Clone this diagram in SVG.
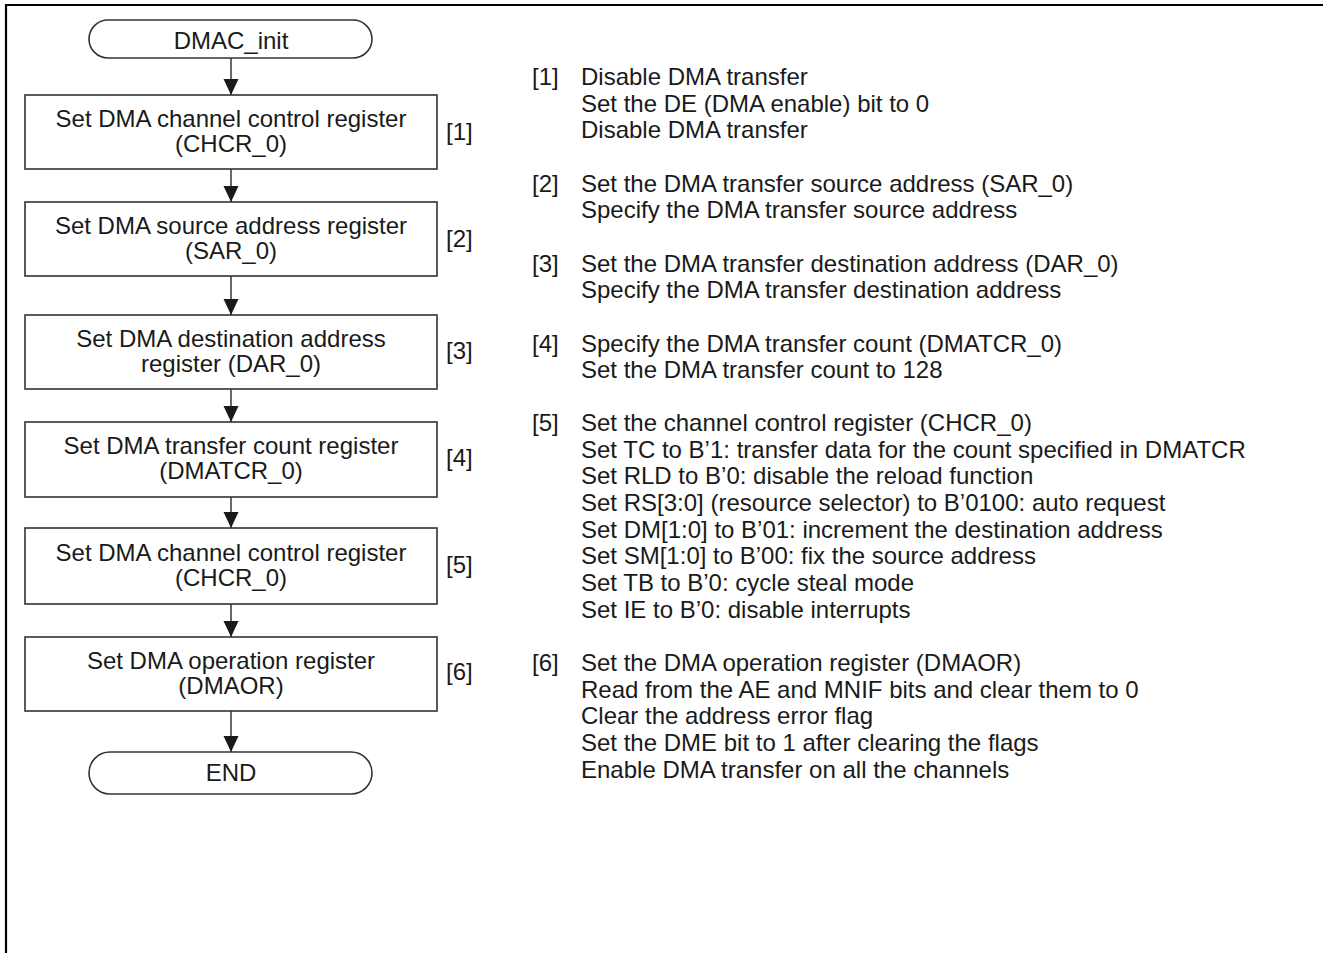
<svg xmlns="http://www.w3.org/2000/svg" width="1323" height="953" viewBox="0 0 1323 953">
<style>
text{font-family:"Liberation Sans",Arial,sans-serif;font-size:24px;fill:#1a1a1a}
.c{text-anchor:middle}
.box{fill:#fff;stroke:#333;stroke-width:1.6}
.conn{stroke:#444;stroke-width:1.6;fill:none}
</style>
<defs>
<marker id="ah" markerUnits="userSpaceOnUse" markerWidth="16" markerHeight="16" viewBox="0 0 16 16" refX="16" refY="8" orient="auto">
<path d="M0,0.5 L16,8 L0,15.5 Z" fill="#1a1a1a"/>
</marker>
</defs>
<rect width="1323" height="953" fill="#fff"/>
<path d="M6,953 V5 H1323" fill="none" stroke="#000" stroke-width="2.2"/>

<g id="connectors">
<line class="conn" x1="231" y1="58" x2="231" y2="95" marker-end="url(#ah)"/>
<line class="conn" x1="231" y1="169" x2="231" y2="202" marker-end="url(#ah)"/>
<line class="conn" x1="231" y1="276" x2="231" y2="315" marker-end="url(#ah)"/>
<line class="conn" x1="231" y1="389" x2="231" y2="422" marker-end="url(#ah)"/>
<line class="conn" x1="231" y1="497" x2="231" y2="528" marker-end="url(#ah)"/>
<line class="conn" x1="231" y1="604" x2="231" y2="637" marker-end="url(#ah)"/>
<line class="conn" x1="231" y1="711" x2="231" y2="752" marker-end="url(#ah)"/>
</g>

<g id="start">
<rect class="box" x="89" y="20" width="283" height="38" rx="19" ry="19"/>
<text class="c" x="231" y="49">DMAC_init</text>
</g>
<g id="step1">
<rect class="box" x="25" y="95" width="412" height="74"/>
<text class="c" x="231" y="127">Set DMA channel control register</text>
<text class="c" x="231" y="152">(CHCR_0)</text>
<text x="446" y="140">[1]</text>
</g>
<g id="step2">
<rect class="box" x="25" y="202" width="412" height="74"/>
<text class="c" x="231" y="234">Set DMA source address register</text>
<text class="c" x="231" y="259">(SAR_0)</text>
<text x="446" y="247">[2]</text>
</g>
<g id="step3">
<rect class="box" x="25" y="315" width="412" height="74"/>
<text class="c" x="231" y="347">Set DMA destination address</text>
<text class="c" x="231" y="372">register (DAR_0)</text>
<text x="446" y="359">[3]</text>
</g>
<g id="step4">
<rect class="box" x="25" y="422" width="412" height="75"/>
<text class="c" x="231" y="454">Set DMA transfer count register</text>
<text class="c" x="231" y="479">(DMATCR_0)</text>
<text x="446" y="466">[4]</text>
</g>
<g id="step5">
<rect class="box" x="25" y="528" width="412" height="76"/>
<text class="c" x="231" y="561">Set DMA channel control register</text>
<text class="c" x="231" y="586">(CHCR_0)</text>
<text x="446" y="573">[5]</text>
</g>
<g id="step6">
<rect class="box" x="25" y="637" width="412" height="74"/>
<text class="c" x="231" y="669">Set DMA operation register</text>
<text class="c" x="231" y="694">(DMAOR)</text>
<text x="446" y="680">[6]</text>
</g>
<g id="end">
<rect class="box" x="89" y="752" width="283" height="42" rx="21" ry="21"/>
<text class="c" x="231" y="781">END</text>
</g>

<g id="notes">
<text x="532" y="85">[1]</text>
<text x="581" y="85">Disable DMA transfer</text>
<text x="581" y="112">Set the DE (DMA enable) bit to 0</text>
<text x="581" y="138">Disable DMA transfer</text>

<text x="532" y="192">[2]</text>
<text x="581" y="192">Set the DMA transfer source address (SAR_0)</text>
<text x="581" y="218">Specify the DMA transfer source address</text>

<text x="532" y="272">[3]</text>
<text x="581" y="272">Set the DMA transfer destination address (DAR_0)</text>
<text x="581" y="298">Specify the DMA transfer destination address</text>

<text x="532" y="352">[4]</text>
<text x="581" y="352">Specify the DMA transfer count (DMATCR_0)</text>
<text x="581" y="378">Set the DMA transfer count to 128</text>

<text x="532" y="431">[5]</text>
<text x="581" y="431">Set the channel control register (CHCR_0)</text>
<text x="581" y="458">Set TC to B’1: transfer data for the count specified in DMATCR</text>
<text x="581" y="484">Set RLD to B’0: disable the reload function</text>
<text x="581" y="511">Set RS[3:0] (resource selector) to B’0100: auto request</text>
<text x="581" y="538">Set DM[1:0] to B’01: increment the destination address</text>
<text x="581" y="564">Set SM[1:0] to B’00: fix the source address</text>
<text x="581" y="591">Set TB to B’0: cycle steal mode</text>
<text x="581" y="618">Set IE to B’0: disable interrupts</text>

<text x="532" y="671">[6]</text>
<text x="581" y="671">Set the DMA operation register (DMAOR)</text>
<text x="581" y="698">Read from the AE and MNIF bits and clear them to 0</text>
<text x="581" y="724">Clear the address error flag</text>
<text x="581" y="751">Set the DME bit to 1 after clearing the flags</text>
<text x="581" y="778">Enable DMA transfer on all the channels</text>
</g>
</svg>
